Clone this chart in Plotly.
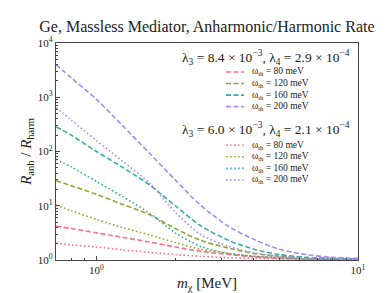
import plotly.graph_objects as go

# Dark-matter mass grid (MeV)
m_chi = [0.7, 0.8, 1.0, 1.25, 1.6, 2.0, 2.5, 3.2, 4.0, 5.0, 6.3, 8.0, 10.0]

# lambda3 = 8.4e-3, lambda4 = 2.9e-4 (dashed)
dash_80 = [4.2, 3.8, 3.16, 2.63, 2.14, 1.74, 1.45, 1.26, 1.15, 1.07, 1.05, 1.02, 1.01]
dash_120 = [29, 23.4, 16.2, 10.7, 6.8, 3.8, 2.3, 1.66, 1.32, 1.17, 1.1, 1.05, 1.02]
dash_160 = [288, 200, 100, 52, 24, 10, 4.3, 2.3, 1.58, 1.26, 1.12, 1.07, 1.05]
dash_200 = [3980, 2290, 912, 309, 91, 30, 10.2, 4.17, 2.4, 1.58, 1.26, 1.12, 1.07]

# lambda3 = 6.0e-3, lambda4 = 2.1e-4 (dotted)
dot_80 = [2.04, 1.9, 1.74, 1.55, 1.38, 1.26, 1.17, 1.1, 1.07, 1.05, 1.02, 1.01, 1.005]
dot_120 = [10.2, 8.1, 5.6, 4.0, 2.9, 2.1, 1.58, 1.32, 1.17, 1.1, 1.05, 1.02, 1.01]
dot_160 = [72, 52, 28, 15, 7.2, 3.16, 1.78, 1.32, 1.17, 1.1, 1.05, 1.02, 1.01]
dot_200 = [646, 380, 158, 68, 26, 7.6, 2.95, 1.78, 1.35, 1.17, 1.1, 1.05, 1.02]

omega_labels = ["80", "120", "160", "200"]
colors = ["#f77189", "#97a431", "#36ada4", "#a48cf4"]
group_titles = [
    "λ<sub>3</sub> = 8.4 × 10<sup>−3</sup>, λ<sub>4</sub> = 2.9 × 10<sup>−4</sup>",
    "λ<sub>3</sub> = 6.0 × 10<sup>−3</sup>, λ<sub>4</sub> = 2.1 × 10<sup>−4</sup>",
]

x_tick_labels = ["10<sup>0</sup>", "10<sup>1</sup>"]
y_tick_labels = ["10<sup>0</sup>", "10<sup>1</sup>", "10<sup>2</sup>", "10<sup>3</sup>", "10<sup>4</sup>"]

FONT = "Liberation Serif"
W, H = 390, 293
ML, MR, MT, MB = 48, 40, 35, 33
PW, PH = W - ML - MR, H - MT - MB

DASH = "5px,2.5px"
DOT = "1.6px,2.4px"

fig = go.Figure()
for series, lab, col in zip([dash_80, dash_120, dash_160, dash_200], omega_labels, colors):
    fig.add_trace(go.Scatter(
        x=m_chi, y=series, mode="lines", showlegend=False,
        line=dict(color=col, dash=DASH, width=1.6, shape="spline", smoothing=0.8),
        name="ω<sub>th</sub> = %s meV" % lab))
for series, lab, col in zip([dot_80, dot_120, dot_160, dot_200], omega_labels, colors):
    fig.add_trace(go.Scatter(
        x=m_chi, y=series, mode="lines", showlegend=False,
        line=dict(color=col, dash=DOT, width=1.6, shape="spline", smoothing=0.8),
        name="ω<sub>th</sub> = %s meV" % lab))

axis_common = dict(
    type="log", showline=True, mirror=True, linecolor="#444", linewidth=1.2,
    showgrid=False, zeroline=False, ticks="inside", ticklen=4, tickcolor="#444",
    tickfont=dict(family=FONT, size=11, color="#222"),
)

fig.update_xaxes(
    **axis_common, range=[-0.155, 1.0],
    tickvals=[1, 10], ticktext=x_tick_labels,
    minor=dict(ticks="inside", ticklen=2, tickcolor="#444",
               tickvals=[0.7, 0.8, 0.9, 2, 3, 4, 5, 6, 7, 8, 9]),
    title=dict(text="<i>m</i><sub>χ</sub> [MeV]", font=dict(family=FONT, size=15, color="#222"), standoff=2),
)
fig.update_yaxes(
    **axis_common, range=[0, 4],
    tickvals=[1, 10, 100, 1000, 10000], ticktext=y_tick_labels,
    minor=dict(ticks="inside", ticklen=2, tickcolor="#444",
               tickvals=[k * 10 ** e for e in range(4) for k in range(2, 10)]),
    title=dict(text="<i>R</i><sub>anh</sub> / <i>R</i><sub>harm</sub>", font=dict(family=FONT, size=15, color="#222"), standoff=2),
)

# Two legend blocks (title + 4 entries each), placed in the upper right of the axes
def px_x(px):
    return (px - ML) / PW

def px_y(py):
    return (H - MB - py) / PH

legend_blocks = [(50, 65, DASH), (125, 141, DOT)]   # title y, first entry y (pixels), dash
ENTRY_STEP = 12
annotations, shapes = [], []
for (title_y, entry_y0, dash), gtitle in zip(legend_blocks, group_titles):
    annotations.append(dict(
        text=gtitle, xref="paper", yref="paper", x=px_x(258), y=px_y(title_y),
        xanchor="center", yanchor="middle", showarrow=False,
        font=dict(family=FONT, size=13.5, color="#222")))
    for i, (lab, col) in enumerate(zip(omega_labels, colors)):
        ey = entry_y0 + i * ENTRY_STEP
        shapes.append(dict(
            type="line", xref="paper", yref="paper",
            x0=px_x(218), x1=px_x(236), y0=px_y(ey), y1=px_y(ey),
            line=dict(color=col, dash=dash, width=1.6)))
        annotations.append(dict(
            text="ω<sub>th</sub> = %s meV" % lab, xref="paper", yref="paper",
            x=px_x(242), y=px_y(ey), xanchor="left", yanchor="middle", showarrow=False,
            font=dict(family=FONT, size=9.5, color="#222")))

fig.update_layout(
    width=W, height=H,
    margin=dict(l=ML, r=MR, t=MT, b=MB),
    paper_bgcolor="white", plot_bgcolor="white",
    showlegend=False,
    title=dict(text="Ge, Massless Mediator, Anharmonic/Harmonic Rate",
               font=dict(family=FONT, size=16, color="#222"),
               x=0.51, xanchor="center", y=0.955, yanchor="top"),
    annotations=annotations,
    shapes=shapes,
)

fig.write_html("out.html")
